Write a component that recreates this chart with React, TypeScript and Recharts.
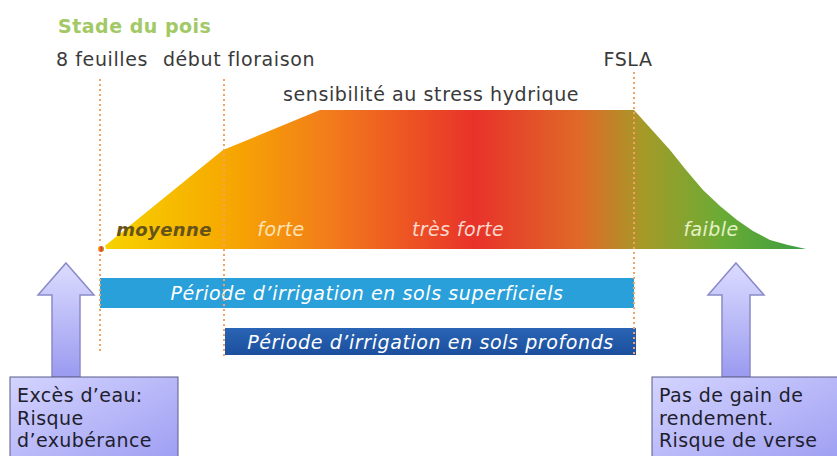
import { ComposedChart, Area, XAxis, YAxis, ReferenceLine, ReferenceArea, ReferenceDot, Customized } from 'recharts'

// position along the crop cycle (x) and sensitivity to water stress (height)
const cycle = [101, 223, 320, 634, 652, 670, 686, 703, 720, 737, 753, 770, 788, 806]
const sensitivity = [0, 99, 139, 139, 119, 99, 79, 59, 43, 29, 18, 9, 4, 0]

const stages = ['8 feuilles', 'début floraison', 'FSLA']
const stageAt = [100, 224, 634]

const levels = ['moyenne', 'forte', 'très forte', 'faible']
const levelAt = [165, 282, 459, 712]
const levelColors = ['#66531a', '#fde3b4', '#fcd9cc', '#e4f2c8']

const irrigation = ['Période d\u2019irrigation en sols superficiels', 'Période d\u2019irrigation en sols profonds']
const irrigationFrom = [100, 225]
const irrigationTo = [634, 636]

const data = cycle.map((x, i) => ({ x, s: sensitivity[i] }))

const font = '"DejaVu Sans", Verdana, sans-serif'

function stageLabel(text: string, dx: number) {
  return (props: any) => {
    const vb = props.viewBox || {}
    return (
      <text x={vb.x + dx} y={66} textAnchor="middle" fontFamily={font} fontSize={19} letterSpacing={0.6} fill="#3a3a3a">
        {text}
      </text>
    )
  }
}

function levelLabel(text: string, color: string, bold: boolean) {
  return (props: any) => {
    const vb = props.viewBox || {}
    return (
      <text
        x={vb.x}
        y={vb.y}
        textAnchor="middle"
        fontFamily={font}
        fontSize={bold ? 18 : 19}
        fontStyle="italic"
        fontWeight={bold ? 'bold' : 'normal'}
        letterSpacing={0.4}
        fill={color}
      >
        {text}
      </text>
    )
  }
}

function barLabel(text: string) {
  return (props: any) => {
    const vb = props.viewBox || {}
    return (
      <text
        x={vb.x + vb.width / 2}
        y={vb.y + vb.height / 2 + 7}
        textAnchor="middle"
        fontFamily={font}
        fontSize={19}
        fontStyle="italic"
        letterSpacing={0.6}
        fill="#ffffff"
      >
        {text}
      </text>
    )
  }
}

function Arrow({ cx }: { cx: number }) {
  const tip = 263
  const base = 295
  const bottom = 377
  return (
    <path
      d={`M${cx} ${tip} L${cx + 28} ${base} L${cx + 14} ${base} L${cx + 14} ${bottom} L${cx - 14} ${bottom} L${cx - 14} ${base} L${cx - 28} ${base} Z`}
      fill="url(#arrowFill)"
      stroke="#8a8ac8"
      strokeWidth={1.5}
    />
  )
}

function Note({ x, w, lines }: { x: number; w: number; lines: string[] }) {
  return (
    <g>
      <rect x={x} y={377} width={w} height={90} fill="url(#boxFill)" stroke="#5a5a8a" strokeWidth={1} />
      {lines.map((l, i) => (
        <text key={i} x={x + 7} y={402 + i * 22.5} fontFamily={font} fontSize={19} letterSpacing={0.4} fill="#1e1e2e">
          {l}
        </text>
      ))}
    </g>
  )
}

function Decorations() {
  return (
    <g>
      <text x={58} y={33} fontFamily={font} fontSize={19} fontWeight="bold" letterSpacing={0.5} fill="#a2c965">
        Stade du pois
      </text>
      <text x={283} y={101} fontFamily={font} fontSize={19} letterSpacing={0.6} fill="#3a3a3a">
        sensibilité au stress hydrique
      </text>
      <Arrow cx={66} />
      <Arrow cx={736} />
      <Note x={10} w={168} lines={['Excès d\u2019eau:', 'Risque', 'd\u2019exubérance']} />
      <Note x={652} w={190} lines={['Pas de gain de', 'rendement.', 'Risque de verse']} />
    </g>
  )
}

export default function App() {
  return (
    <div style={{ position: 'absolute', left: 0, top: 0, width: 837, height: 456, background: '#fff' }}>
      <ComposedChart width={837} height={456} data={data} margin={{ top: 0, right: 0, bottom: 0, left: 0 }}>
        <defs>
          <linearGradient id="heat" x1="0" y1="0" x2="1" y2="0">
            <stop offset="0%" stopColor="#f6d400" />
            <stop offset="18%" stopColor="#f7a800" />
            <stop offset="33%" stopColor="#f27a1c" />
            <stop offset="53%" stopColor="#e8322a" />
            <stop offset="68%" stopColor="#df6a28" />
            <stop offset="77%" stopColor="#a59a28" />
            <stop offset="88%" stopColor="#6aab35" />
            <stop offset="100%" stopColor="#3c9e42" />
          </linearGradient>
          <linearGradient id="arrowFill" x1="0" y1="0" x2="0" y2="1">
            <stop offset="0%" stopColor="#dcdcff" />
            <stop offset="100%" stopColor="#9a9af0" />
          </linearGradient>
          <linearGradient id="boxFill" x1="0" y1="0" x2="1" y2="1">
            <stop offset="0%" stopColor="#d4d4ff" />
            <stop offset="100%" stopColor="#9c9cf2" />
          </linearGradient>
          <linearGradient id="deepFill" x1="0" y1="0" x2="0" y2="1">
            <stop offset="0%" stopColor="#2a64b4" />
            <stop offset="100%" stopColor="#1b4f9e" />
          </linearGradient>
        </defs>
        <XAxis type="number" dataKey="x" domain={[0, 837]} hide />
        <YAxis type="number" domain={[-207, 249]} hide />
        <Area
          type="linear"
          dataKey="s"
          baseValue={0}
          stroke="none"
          fill="url(#heat)"
          fillOpacity={1}
          isAnimationActive={false}
        />
        <ReferenceArea
          x1={irrigationFrom[0]}
          x2={irrigationTo[0]}
          y1={-29}
          y2={-59}
          fill="#2aa0da"
          fillOpacity={1}
          stroke="none"
          label={barLabel(irrigation[0])}
        />
        <ReferenceArea
          x1={irrigationFrom[1]}
          x2={irrigationTo[1]}
          y1={-79}
          y2={-106}
          fill="url(#deepFill)"
          fillOpacity={1}
          stroke="none"
          label={barLabel(irrigation[1])}
        />
        {stages.map((s, i) => (
          <ReferenceLine
            key={s}
            segment={[
              { x: stageAt[i], y: i === 2 ? 177 : 170 },
              { x: stageAt[i], y: i === 0 ? -103 : -108 },
            ]}
            stroke="#f2a266"
            strokeWidth={2}
            strokeDasharray="2 3"
            label={stageLabel(s, i === 1 ? 15 : i === 2 ? -6 : 2)}
          />
        ))}
        {levels.map((l, i) => (
          <ReferenceDot
            key={l}
            x={levelAt[i]}
            y={12}
            r={1}
            fill="none"
            stroke="none"
            label={levelLabel(l, levelColors[i], i === 0)}
          />
        ))}
        <Customized component={<Decorations />} />
      </ComposedChart>
    </div>
  )
}
